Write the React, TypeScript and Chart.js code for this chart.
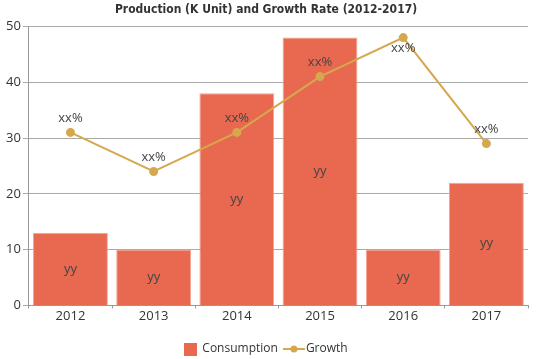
import React, { useEffect, useRef } from "react";
import { Chart, registerables } from "chart.js";

Chart.register(...registerables);

const categories = ["2012", "2013", "2014", "2015", "2016", "2017"];
const consumption = [13, 10, 38, 48, 10, 22];
const growth = [31, 24, 31, 41, 48, 29];
const barLabels = ["yy", "yy", "yy", "yy", "yy", "yy"];
const lineLabels = ["xx%", "xx%", "xx%", "xx%", "xx%", "xx%"];
const yTicks = [0, 10, 20, 30, 40, 50];

const BAR = "#E8694F";
const LINE = "#D6A84E";

function makeLineIcon(): HTMLCanvasElement {
  const c = document.createElement("canvas");
  c.width = 24;
  c.height = 10;
  const ctx = c.getContext("2d")!;
  ctx.strokeStyle = LINE;
  ctx.lineWidth = 2;
  ctx.beginPath();
  ctx.moveTo(1, 5);
  ctx.lineTo(23, 5);
  ctx.stroke();
  ctx.fillStyle = LINE;
  ctx.beginPath();
  ctx.arc(12, 5, 3.5, 0, Math.PI * 2);
  ctx.fill();
  return c;
}

function makeBoxIcon(): HTMLCanvasElement {
  const c = document.createElement("canvas");
  c.width = 13;
  c.height = 13;
  const ctx = c.getContext("2d")!;
  ctx.fillStyle = BAR;
  ctx.fillRect(0, 0, 13, 13);
  return c;
}

const labelPlugin = {
  id: "valueLabels",
  afterDatasetsDraw(chart: any) {
    const ctx = chart.ctx;
    const area = chart.chartArea;
    ctx.save();
    ctx.font = "13px 'Open Sans', sans-serif";
    ctx.fillStyle = "#444";
    ctx.textAlign = "center";
    ctx.textBaseline = "middle";
    const barMeta = chart.getDatasetMeta(0);
    barMeta.data.forEach((el: any, i: number) => {
      const y = (el.y + el.base) / 2;
      ctx.fillText(barLabels[i], el.x, y);
    });
    const lineMeta = chart.getDatasetMeta(1);
    lineMeta.data.forEach((el: any, i: number) => {
      let y = el.y - 14;
      if (y < area.top + 20) y = el.y + 11;
      ctx.fillText(lineLabels[i], el.x, y);
    });
    ctx.restore();
  },
};

export default function App() {
  const ref = useRef<HTMLCanvasElement>(null);
  useEffect(() => {
    const lineIcon = makeLineIcon();
    const boxIcon = makeBoxIcon();
    const chart = new Chart(ref.current!, {
      type: "bar",
      data: {
        labels: categories,
        datasets: [
          {
            type: "bar",
            label: "Consumption",
            data: consumption,
            backgroundColor: BAR,
            borderColor: "#F2A491",
            borderWidth: 1,
            barPercentage: 0.9,
            categoryPercentage: 1,
            order: 2,
          },
          {
            type: "line",
            label: "Growth",
            data: growth,
            borderColor: LINE,
            backgroundColor: LINE,
            borderWidth: 2,
            pointRadius: 3.5,
            pointHoverRadius: 3.5,
            tension: 0,
            order: 1,
          } as any,
        ],
      },
      options: {
        animation: false,
        responsive: true,
        maintainAspectRatio: false,
        layout: { padding: { left: 4, right: 11, top: 0, bottom: -6 } },
        plugins: {
          title: {
            display: true,
            text: "Production (K Unit) and Growth Rate (2012-2017)",
            color: "#333",
            font: { family: "'DejaVu Sans Condensed', 'Liberation Sans Narrow', sans-serif", size: 12, weight: "bold" },
            padding: { top: 3, bottom: 9 },
          },
          legend: {
            position: "bottom",
            labels: {
              usePointStyle: true,
              color: "#333",
              font: { family: "'Open Sans', sans-serif", size: 12 },
              padding: 10,
              generateLabels: () => [
                { text: "Consumption", pointStyle: boxIcon, fillStyle: BAR, strokeStyle: BAR, lineWidth: 0, datasetIndex: 0, fontColor: "#333" } as any,
                { text: "Growth", pointStyle: lineIcon, fillStyle: LINE, strokeStyle: LINE, lineWidth: 0, datasetIndex: 1, fontColor: "#333" } as any,
              ],
            },
          },
          tooltip: { enabled: false },
        },
        scales: {
          x: {
            grid: { display: true, drawOnChartArea: false, drawTicks: true, tickLength: 3, color: "#999" },
            border: { display: true, color: "#999" },
            ticks: { color: "#333", font: { family: "'Open Sans', sans-serif", size: 13 }, padding: 0 },
            afterFit: (s: any) => {
              s.height += 9;
            },
          },
          y: {
            min: 0,
            max: 50,
            afterBuildTicks: (axis: any) => {
              axis.ticks = yTicks.map((v) => ({ value: v }));
            },
            grid: { color: "#aaa", tickLength: 6 },
            border: { display: true, color: "#999" },
            ticks: { color: "#333", font: { family: "'Open Sans', sans-serif", size: 13 }, padding: 2 },
          },
        },
      },
      plugins: [labelPlugin],
    });
    return () => chart.destroy();
  }, []);
  return (
    <div style={{ position: "fixed", left: 0, top: 0, width: 539, height: 359, background: "#fff" }}>
      <canvas ref={ref} />
    </div>
  );
}
